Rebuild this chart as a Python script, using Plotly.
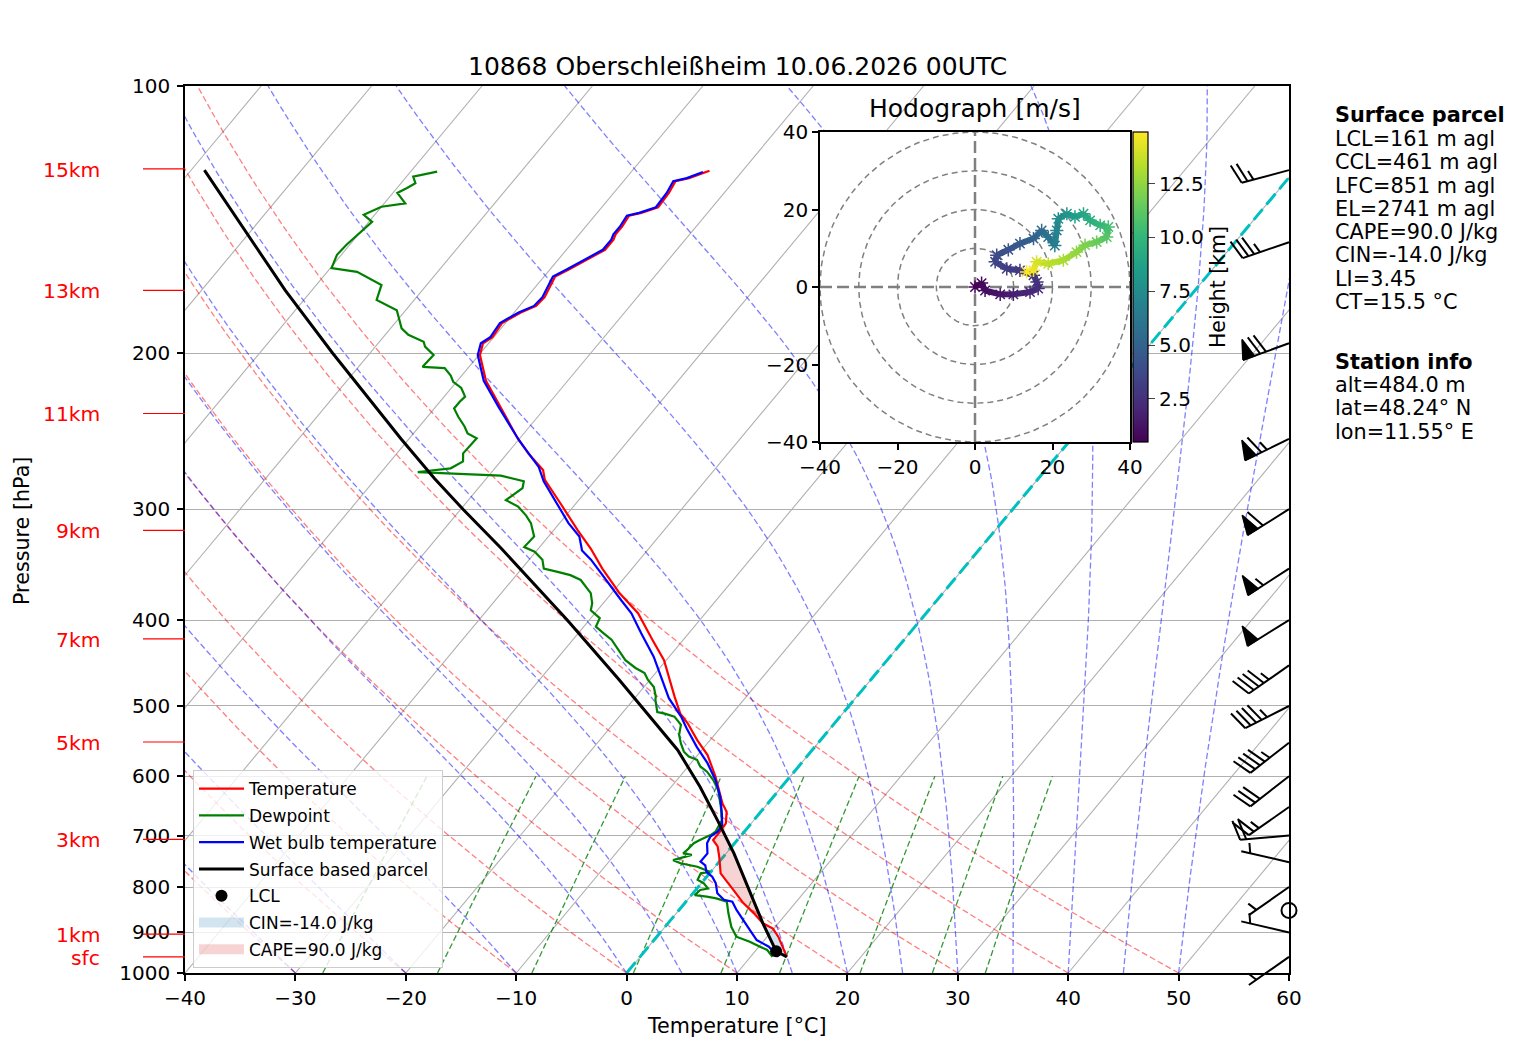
"""Skew-T log-p sounding with hodograph inset, drawn with Plotly."""

import numpy as np
import plotly.graph_objects as go
from plotly.colors import sample_colorscale

# ── sounding data ──
station_title = "10868 Oberschleißheim 10.06.2026 00UTC"

p_temp = [959, 910, 891, 879, 856, 834, 806, 772, 739, 720, 708, 696, 678, 658, 644, 617, 600, 568,
          546, 523, 510, 488, 471, 444, 421, 393, 373, 350, 332, 317, 295, 278, 271, 260, 249, 230,
          215, 201, 195, 192, 185, 180, 177, 173, 164, 161, 158, 153, 149, 147, 144, 140, 139, 137,
          132, 128, 127, 124.6]
t_temp = [13.3, 11.0, 9.9, 8.6, 7.0, 5.3, 3.4, 1.0, -0.4, -1.3, -2.2, -2.2, -2.3, -3.1, -4.1, -5.7,
          -6.8, -9.1, -11.2, -13.3, -14.7, -16.5, -17.9, -20.2, -22.8, -26.1, -29.3, -32.7, -35.3,
          -37.8, -41.5, -44.6, -45.5, -48.0, -50.3, -54.1, -57.4, -59.9, -60.5, -60.1, -60.3, -59.4,
          -58.5, -58.4, -59.0, -58.3, -57.6, -56.5, -56.5, -56.7, -56.7, -56.9, -56.0, -54.9, -55.0,
          -55.3, -54.3, -53.0]

p_dew = [959, 942, 934, 922, 910, 887, 856, 831, 824, 820, 817, 806, 803, 792, 785, 772, 769, 759,
         752, 746, 736, 733, 727, 714, 708, 699, 693, 672.5, 649.5, 622, 606, 593, 585, 575, 570, 563,
         551, 539, 525, 514, 510, 508, 492, 488, 476, 467, 459, 453, 444, 431, 421, 414, 407, 398,
         390, 383, 373, 360.5, 356, 353, 350, 342, 335, 331, 322, 311, 305, 298, 293, 284, 279, 275,
         272.4, 269.8, 265, 259.5, 253, 249.6, 246.4, 242, 236, 231, 227, 224, 219, 215.5, 212, 208,
         207.3, 203.7, 201, 196.7, 194.2, 190.8, 187.6, 179, 174.3, 167.6, 162, 160.4, 155, 151,
         142.3, 139.7, 136.8, 135.6, 132, 130.3, 128.7, 126.5, 124.9]
t_dew = [12.0, 11.0, 10.1, 8.8, 7.2, 6.0, 4.7, 3.7, 2.5, 1.5, 0.3, 0.4, 1.0, 0.2, -0.6, -0.8, -0.1,
         -1.6, -3.4, -4.3, -3.0, -3.9, -3.8, -3.7, -3.4, -2.8, -2.6, -2.9, -4.0, -5.5, -6.7, -7.9,
         -8.9, -9.7, -10.7, -11.5, -12.4, -13.2, -13.8, -15.0, -16.1, -16.9, -18.0, -18.2, -19.1,
         -20.2, -21.0, -22.2, -23.7, -25.3, -26.5, -27.7, -28.9, -29.2, -30.6, -31.0, -31.9, -33.8,
         -35.1, -36.5, -38.0, -38.8, -40.1, -41.4, -41.3, -42.6, -43.6, -45.0, -46.6, -46.0, -46.4,
         -48.9, -56.7, -54.0, -53.4, -54.0, -53.9, -53.9, -55.1, -55.9, -57.2, -58.2, -58.2, -58.1,
         -59.1, -60.3, -61.0, -62.1, -64.2, -64.1, -64.1, -65.5, -66.0, -67.9, -69.0, -70.8, -73.4,
         -74.1, -77.3, -79.9, -80.4, -80.3, -79.7, -81.0, -80.0, -78.1, -79.6, -79.1, -78.7, -79.4,
         -77.6]

p_wetbulb = [959, 934, 926, 918, 894, 872, 849, 831, 827, 813, 792, 779, 769, 756, 749, 733, 714,
             702, 693, 681, 661, 633, 606, 580, 556, 530, 514, 490, 463, 440, 414, 393, 380, 361,
             342, 334, 322, 311, 298, 288, 279, 269, 251, 230, 215, 201, 195, 192, 185, 180, 177,
             173, 164, 161, 158, 153, 149, 147, 144, 140, 139, 137, 132, 128, 127, 125]
t_wetbulb = [12.5, 10.9, 10.1, 9.3, 7.9, 6.6, 5.2, 4.2, 3.3, 2.2, 1.3, 0.5, -0.4, -1.0, -1.7, -1.7,
             -2.5, -2.7, -2.4, -2.5, -3.4, -4.8, -6.5, -8.5, -10.7, -13.0, -14.4, -16.9, -19.3,
             -21.4, -24.3, -26.7, -28.6, -31.4, -34.4, -35.9, -37.2, -39.2, -41.3, -43.0, -44.6,
             -46.1, -49.9, -54.3, -57.6, -60.1, -60.7, -60.3, -60.5, -59.6, -58.7, -58.6, -59.2,
             -58.5, -57.8, -56.7, -56.7, -56.9, -56.9, -57.1, -56.2, -55.1, -55.2, -55.5, -54.5,
             -53.5]

p_parcel = [959, 945, 879, 813, 733, 672.5, 616.6, 560.5, 514, 490, 467, 400, 332, 300, 277, 250,
            200, 170, 124.4]
t_parcel = [13.3, 11.9, 8.6, 5.2, 0.7, -3.3, -7.4, -12.2, -17.2, -20.0, -22.8, -32.0, -43.4, -49.8,
            -54.7, -60.7, -73.4, -82.4, -98.8]
lcl_p, lcl_t = 945, 11.9

# wind barbs at the right edge (direction deg, speed kt)
barb_p = [959, 900, 850, 800, 750, 700, 650, 600, 550, 500, 450, 400, 350, 300, 250, 195, 150, 124.4]
barb_dir = [235, 283, 0, 235, 283, 265, 235, 232, 232, 243, 235, 238, 237, 238, 244, 250, 251, 255]
barb_kt = [5, 5, 0, 5, 5, 20, 25, 30, 45, 45, 45, 50, 55, 60, 65, 70, 35, 25]

# height markers on the left
height_labels = ["15km", "13km", "11km", "9km", "7km", "5km", "3km", "1km", "sfc"]
height_p = [124, 170, 234, 317, 420, 549, 707, 904, 959]

# hodograph (height km, u/v m/s)
hodo_height = [0.5, 0.8, 1.0, 1.4, 1.8, 2.1, 2.4, 2.6, 2.8, 3.0, 3.2, 3.5, 3.8, 4.2, 4.6, 5.0, 5.5,
               6.0, 6.5, 7.0, 7.5, 8.0, 8.5, 9.0, 9.5, 10.0, 10.5, 11.0, 11.5, 12.0, 12.5, 13.0,
               13.5, 14.0, 14.5, 14.9]
hodo_u = [0.0, 1.7, 2.6, 6.5, 9.9, 14.2, 16.3, 16.0, 15.1, 11.6, 8.2, 5.2, 5.6, 8.6, 11.6, 15.1,
          17.2, 18.9, 20.6, 21.1, 21.5, 23.7, 25.8, 28.0, 29.7, 32.3, 34.4, 34.0, 31.4, 28.4, 26.2,
          22.8, 18.9, 15.9, 15.1, 13.3]
hodo_v = [0.0, 1.0, -0.9, -1.9, -1.9, -1.3, -0.4, 1.3, 3.0, 4.3, 4.7, 6.5, 8.2, 9.6, 11.2, 12.5,
          14.6, 12.9, 10.7, 14.6, 17.6, 18.9, 18.1, 18.9, 17.2, 15.9, 15.5, 12.9, 11.6, 10.8, 9.0,
          6.9, 6.0, 6.5, 4.3, 3.9]

# indices
lcl_agl, ccl_agl, lfc_agl, el_agl = 161, 461, 851, 2741
cape, cin, li, ct = 90.0, -14.0, 3.45, 15.5
alt, lat, lon = 484.0, 48.24, 11.55

# ── geometry (figure pixels) ──
FIG_W, FIG_H = 1501, 1044
PX0, PX1, PY0, PY1 = 177, 1281, 78, 965      # main skew-T box
HX0, HX1, HY0, HY1 = 812, 1122, 124, 434     # hodograph box
SKEW = 66.9                                  # degC per decade of pressure
FONT = "DejaVu Sans"
FS = 20
CIN_FILL, CAPE_FILL = "rgba(31,119,180,0.2)", "rgba(214,39,40,0.2)"


def px(x):
    return x / FIG_W


def py(y):
    return 1 - y / FIG_H


def ypix(p):
    return PY0 + (np.log10(p) - 2.0) * (PY1 - PY0)


def skew_x(t, p):
    return np.asarray(t, float) + SKEW * np.log10(1000.0 / np.asarray(p, float))


def moist_lapse(t0_c, pres):
    rd, cp, lv, eps = 287.04749, 1004.6662, 2.50084e6, 0.6219569

    def slope(t, p):
        es = 6.112 * np.exp(17.67 * (t - 273.15) / (t - 29.65))
        rs = eps * es / (p - es)
        return (rd * t + lv * rs) / (cp + lv * lv * rs * eps / (rd * t * t)) / p

    t = np.asarray(t0_c, float) + 273.15
    out = [t.copy()]
    for p0, p1 in zip(pres[:-1], pres[1:]):
        h = p1 - p0
        k1 = slope(t, p0)
        k2 = slope(t + 0.5 * h * k1, p0 + 0.5 * h)
        k3 = slope(t + 0.5 * h * k2, p0 + 0.5 * h)
        k4 = slope(t + h * k3, p1)
        t = t + h * (k1 + 2 * k2 + 2 * k3 + k4) / 6
        out.append(t.copy())
    return np.array(out).T - 273.15


def joined(lines):
    xs, ys = [], []
    for x, y in lines:
        xs += list(x) + [None]
        ys += list(y) + [None]
    return xs, ys


fig = go.Figure()

# ── background lines ──
iso = [(skew_x([t0, t0], [1000, 100]), [1000, 100]) for t0 in range(-110, 61, 10)]
x, y = joined(iso)
fig.add_trace(go.Scatter(x=x, y=y, mode="lines", line=dict(color="#b0b0b0", width=1.1),
                         showlegend=False, hoverinfo="skip"))

p_bg = np.geomspace(1000, 100, 90)
dry = []
for t0 in range(-40, 51, 10):
    t = (t0 + 273.15) * (p_bg / 1000.0) ** 0.28571 - 273.15
    dry.append((skew_x(t, p_bg), p_bg))
x, y = joined(dry)
fig.add_trace(go.Scatter(x=x, y=y, mode="lines", line=dict(color="rgba(255,0,0,0.5)", width=1.3, dash="6px,3px"),
                         showlegend=False, hoverinfo="skip"))

moist_t0 = list(range(-40, 0, 10)) + list(range(0, 51, 5))
mt = moist_lapse(moist_t0, p_bg)
x, y = joined([(skew_x(row, p_bg), p_bg) for row in mt])
fig.add_trace(go.Scatter(x=x, y=y, mode="lines", line=dict(color="rgba(0,0,255,0.5)", width=1.3, dash="6px,3px"),
                         showlegend=False, hoverinfo="skip"))

p_mr = np.geomspace(1000, 600, 25)
mix = []
for w in [0.0004, 0.001, 0.002, 0.004, 0.007, 0.01, 0.016, 0.024, 0.032]:
    e = p_mr * w / (0.6219569 + w)
    lg = np.log(e / 6.112)
    td = 243.5 * lg / (17.67 - lg)
    mix.append((skew_x(td, p_mr), p_mr))
x, y = joined(mix)
fig.add_trace(go.Scatter(x=x, y=y, mode="lines", line=dict(color="rgba(0,128,0,0.8)", width=1.3, dash="6px,3px"),
                         showlegend=False, hoverinfo="skip"))

fig.add_trace(go.Scatter(x=skew_x([0, 0], [1000, 100]), y=[1000, 100], mode="lines",
                         line=dict(color="#00bfbf", width=3, dash="14px,6px"), showlegend=False, hoverinfo="skip"))


# ── CAPE / CIN shading ──
def on_levels(p_new, p, t):
    p = np.asarray(p, float)
    t = np.asarray(t, float)
    o = np.argsort(p)
    return np.interp(np.log(p_new), np.log(p[o]), t[o])


lev = np.array(sorted(set(p_temp) | set(p_parcel), reverse=True), float)
lev = lev[(lev <= min(max(p_temp), max(p_parcel))) & (lev >= max(min(p_temp), min(p_parcel)))]
env = on_levels(lev, p_temp, t_temp)
par = on_levels(lev, p_parcel, t_parcel)
lfc_i = int(np.argmax(par > env))
sel = lev >= lev[lfc_i]
cin_lo = np.minimum(par, env)
fig.add_trace(go.Scatter(
    x=np.concatenate([skew_x(env[sel], lev[sel]), skew_x(cin_lo[sel], lev[sel])[::-1]]),
    y=np.concatenate([lev[sel], lev[sel][::-1]]),
    mode="lines", fill="toself", fillcolor=CIN_FILL, line=dict(width=0),
    showlegend=False, hoverinfo="skip"))
cape_hi = np.maximum(par, env)
fig.add_trace(go.Scatter(
    x=np.concatenate([skew_x(env, lev), skew_x(cape_hi, lev)[::-1]]),
    y=np.concatenate([lev, lev[::-1]]),
    mode="lines", fill="toself", fillcolor=CAPE_FILL, line=dict(width=0),
    showlegend=False, hoverinfo="skip"))
# legend swatches for the shaded areas
fig.add_trace(go.Scatter(x=[None], y=[None], mode="lines", line=dict(color=CIN_FILL, width=13),
                         name=f"CIN={cin:.1f} J/kg", legendrank=6, legendgroup="g6"))
fig.add_trace(go.Scatter(x=[None], y=[None], mode="lines", line=dict(color=CAPE_FILL, width=13),
                         name=f"CAPE={cape:.1f} J/kg", legendrank=7, legendgroup="g7"))

# ── profiles ──
fig.add_trace(go.Scatter(x=skew_x(t_temp, p_temp), y=p_temp, mode="lines", line=dict(color="red", width=2.2),
                         name="Temperature", legendrank=1, legendgroup="g1"))
fig.add_trace(go.Scatter(x=skew_x(t_dew, p_dew), y=p_dew, mode="lines", line=dict(color="green", width=2.2),
                         name="Dewpoint", legendrank=2, legendgroup="g2"))
fig.add_trace(go.Scatter(x=skew_x(t_wetbulb, p_wetbulb), y=p_wetbulb, mode="lines", line=dict(color="blue", width=2.2),
                         name="Wet bulb temperature", legendrank=3, legendgroup="g3"))
fig.add_trace(go.Scatter(x=skew_x(t_parcel, p_parcel), y=p_parcel, mode="lines", line=dict(color="black", width=3),
                         name="Surface based parcel", legendrank=4, legendgroup="g4"))
fig.add_trace(go.Scatter(x=skew_x([lcl_t], [lcl_p]), y=[lcl_p], mode="markers",
                         marker=dict(color="black", size=12), name="LCL", legendrank=5, legendgroup="g5"))

# ── hodograph ──
HL = 40
fig.add_trace(go.Scatter(x=[-HL, HL, HL, -HL, -HL], y=[-HL, -HL, HL, HL, -HL], mode="lines", fill="toself",
                         fillcolor="white", line=dict(width=0), xaxis="x2", yaxis="y2",
                         showlegend=False, hoverinfo="skip"))
th = np.linspace(0, 2 * np.pi, 241)
x, y = joined([(r * np.cos(th), r * np.sin(th)) for r in range(10, HL + 1, 10)])
fig.add_trace(go.Scatter(x=x, y=y, mode="lines", line=dict(color="grey", width=1.5, dash="6px,4px"),
                         xaxis="x2", yaxis="y2", showlegend=False, hoverinfo="skip"))
fig.add_trace(go.Scatter(x=[-HL, HL, None, 0, 0], y=[0, 0, None, -HL, HL], mode="lines",
                         line=dict(color="grey", width=2.5, dash="12px,5px"),
                         xaxis="x2", yaxis="y2", showlegend=False, hoverinfo="skip"))
hh = np.array(hodo_height)
hmin, hmax = hh.min(), hh.max()
for i in range(len(hh) - 1):
    c = sample_colorscale("Viridis", [((hh[i] + hh[i + 1]) / 2 - hmin) / (hmax - hmin)])[0]
    fig.add_trace(go.Scatter(x=hodo_u[i:i + 2], y=hodo_v[i:i + 2], mode="lines", line=dict(color=c, width=6),
                             xaxis="x2", yaxis="y2", showlegend=False, hoverinfo="skip"))
fig.add_trace(go.Scatter(
    x=hodo_u, y=hodo_v, mode="markers", xaxis="x2", yaxis="y2", showlegend=False, hoverinfo="skip",
    marker=dict(symbol="asterisk-open", size=11, color=hodo_height, colorscale="Viridis", cmin=hmin, cmax=hmax,
                line=dict(width=1.5), showscale=True,
                colorbar=dict(x=px(1125), xanchor="left", y=py((HY0 + HY1) / 2), yanchor="middle",
                              len=HY1 - HY0, lenmode="pixels", thickness=15, xpad=0, ypad=0,
                              outlinecolor="black", outlinewidth=1.2, ticks="outside", ticklen=7,
                              tickvals=[2.5, 5.0, 7.5, 10.0, 12.5], ticktext=["2.5", "5.0", "7.5", "10.0", "12.5"],
                              tickfont=dict(size=FS, family=FONT),
                              title=dict(text="Height [km]", side="right", font=dict(size=20.5, family=FONT))))))

# ── wind barbs (drawn in figure pixels) ──
L = 49.0
stroke_x, stroke_y, flag_x, flag_y, calm_x, calm_y = [], [], [], [], [], []
for p, d, s in zip(barb_p, barb_dir, barb_kt):
    bx, by = PX1, ypix(p)
    spd = 5 * int(s / 5 + 0.5)
    if spd == 0:
        calm_x.append(bx)
        calm_y.append(by)
        continue
    r = np.deg2rad(d)
    dx, dy = np.sin(r), -np.cos(r)
    qx, qy = np.cos(r), np.sin(r)

    def pt(off, side=0.0):
        return bx + off * dx + side * qx, by + off * dy + side * qy

    nflag, rem = divmod(spd, 50)
    nfull, rem = divmod(rem, 10)
    tip = pt(L)
    stroke_x += [bx, tip[0], None]
    stroke_y += [by, tip[1], None]
    fh, fw, sp = 0.4 * L, 0.25 * L, 0.125 * L
    off = L
    for _ in range(nflag):
        if off != L:
            off += sp / 2
        a, b, c = pt(off), pt(off - fw / 2, fh), pt(off - fw)
        flag_x += [a[0], b[0], c[0], a[0], None]
        flag_y += [a[1], b[1], c[1], a[1], None]
        off -= fw + sp
    for _ in range(nfull):
        a, b = pt(off), pt(off + fw / 2, fh)
        stroke_x += [a[0], b[0], None]
        stroke_y += [a[1], b[1], None]
        off -= sp
    if rem >= 5:
        if off == L:
            off -= 1.5 * sp
        a, b = pt(off), pt(off + fw / 4, fh / 2)
        stroke_x += [a[0], b[0], None]
        stroke_y += [a[1], b[1], None]

fig.add_trace(go.Scatter(x=stroke_x, y=stroke_y, mode="lines", line=dict(color="black", width=2),
                         xaxis="x3", yaxis="y3", showlegend=False, hoverinfo="skip"))
fig.add_trace(go.Scatter(x=flag_x, y=flag_y, mode="lines", fill="toself", fillcolor="black",
                         line=dict(color="black", width=1.5), xaxis="x3", yaxis="y3",
                         showlegend=False, hoverinfo="skip"))
fig.add_trace(go.Scatter(x=calm_x, y=calm_y, mode="markers",
                         marker=dict(symbol="circle-open", size=15, color="black", line=dict(width=2)),
                         xaxis="x3", yaxis="y3", showlegend=False, hoverinfo="skip"))

# height tick marks on the left
hx, hy = [], []
for p in height_p:
    hx += [PX0 - 42, PX0, None]
    hy += [ypix(p), ypix(p), None]
fig.add_trace(go.Scatter(x=hx, y=hy, mode="lines", line=dict(color="red", width=1.2),
                         xaxis="x3", yaxis="y3", showlegend=False, hoverinfo="skip"))

# ── annotations ──
ann = [
    dict(text=station_title, x=px((PX0 + PX1) / 2), y=py(58), font=dict(size=25)),
    dict(text="Temperature [°C]", x=px((PX0 + PX1) / 2), y=py(1018), font=dict(size=20.7)),
    dict(text="Pressure [hPa]", x=px(14), y=py(523), textangle=-90, font=dict(size=20.7)),
    dict(text="Hodograph [m/s]", x=px((HX0 + HX1) / 2), y=py(100), font=dict(size=25)),
]
for lab, p in zip(height_labels, height_p):
    ann.append(dict(text=lab, x=px(94), y=py(ypix(p) + 1), xanchor="right", font=dict(size=20.3, color="red")))

parcel_lines = [f"LCL={lcl_agl} m agl", f"CCL={ccl_agl} m agl", f"LFC={lfc_agl} m agl", f"EL={el_agl} m agl",
                f"CAPE={cape:.1f} J/kg", f"CIN={cin:.1f} J/kg", f"LI={li}", f"CT={ct} °C"]
station_lines = [f"alt={alt:.1f} m", f"lat={lat}° N", f"lon={lon}° E"]
LINE_H = 23.3
text_rows = [("<b>Surface parcel</b>", 107)]
text_rows += [(s, 131 + i * LINE_H) for i, s in enumerate(parcel_lines)]
text_rows += [("<b>Station info</b>", 354)]
text_rows += [(s, 377 + i * LINE_H) for i, s in enumerate(station_lines)]
for s, yy in text_rows:
    ann.append(dict(text=s, x=px(1325), y=py(yy), xanchor="left", font=dict(size=20.8)))

for a in ann:
    a.setdefault("xanchor", "center")
    a.update(xref="paper", yref="paper", yanchor="middle", showarrow=False)
    f = dict(family=FONT, color="black")
    f.update(a["font"])
    a["font"] = f

axis_common = dict(showline=True, mirror=True, linecolor="black", linewidth=1.5, ticks="outside",
                   ticklen=6, tickwidth=1.5, tickcolor="black", zeroline=False,
                   tickfont=dict(size=FS, family=FONT, color="black"))

fig.update_layout(
    width=FIG_W, height=FIG_H, autosize=False,
    margin=dict(l=0, r=0, t=0, b=0, autoexpand=False),
    paper_bgcolor="white", plot_bgcolor="rgba(0,0,0,0)",
    font=dict(family=FONT, color="black"),
    xaxis=dict(domain=[px(PX0), px(PX1)], range=[-40, 60], tickvals=list(range(-40, 61, 10)),
               showgrid=False, anchor="y", **axis_common),
    yaxis=dict(domain=[py(PY1), py(PY0)], type="log", range=[3, 2], ticklabelstandoff=3,
               tickvals=list(range(100, 1001, 100)), ticktext=[str(v) for v in range(100, 1001, 100)],
               showgrid=True, gridcolor="#b0b0b0", gridwidth=1.1, anchor="x", **axis_common),
    xaxis2=dict(domain=[px(HX0), px(HX1)], range=[-HL, HL], tickvals=[-40, -20, 0, 20, 40],
                showgrid=False, anchor="y2", **axis_common),
    yaxis2=dict(domain=[py(HY1), py(HY0)], range=[-HL, HL], tickvals=[-40, -20, 0, 20, 40],
                showgrid=False, anchor="x2", **axis_common),
    xaxis3=dict(domain=[0, 1], range=[0, FIG_W], visible=False, anchor="y3"),
    yaxis3=dict(domain=[0, 1], range=[FIG_H, 0], visible=False, anchor="x3"),
    legend=dict(x=px(185), y=py(960), xanchor="left", yanchor="bottom", bgcolor="rgba(255,255,255,0.8)",
                bordercolor="#cccccc", borderwidth=1, font=dict(size=17, family=FONT), tracegroupgap=1.7,
                itemwidth=45),
    annotations=ann,
    showlegend=True,
)

fig.write_html("out.html")
